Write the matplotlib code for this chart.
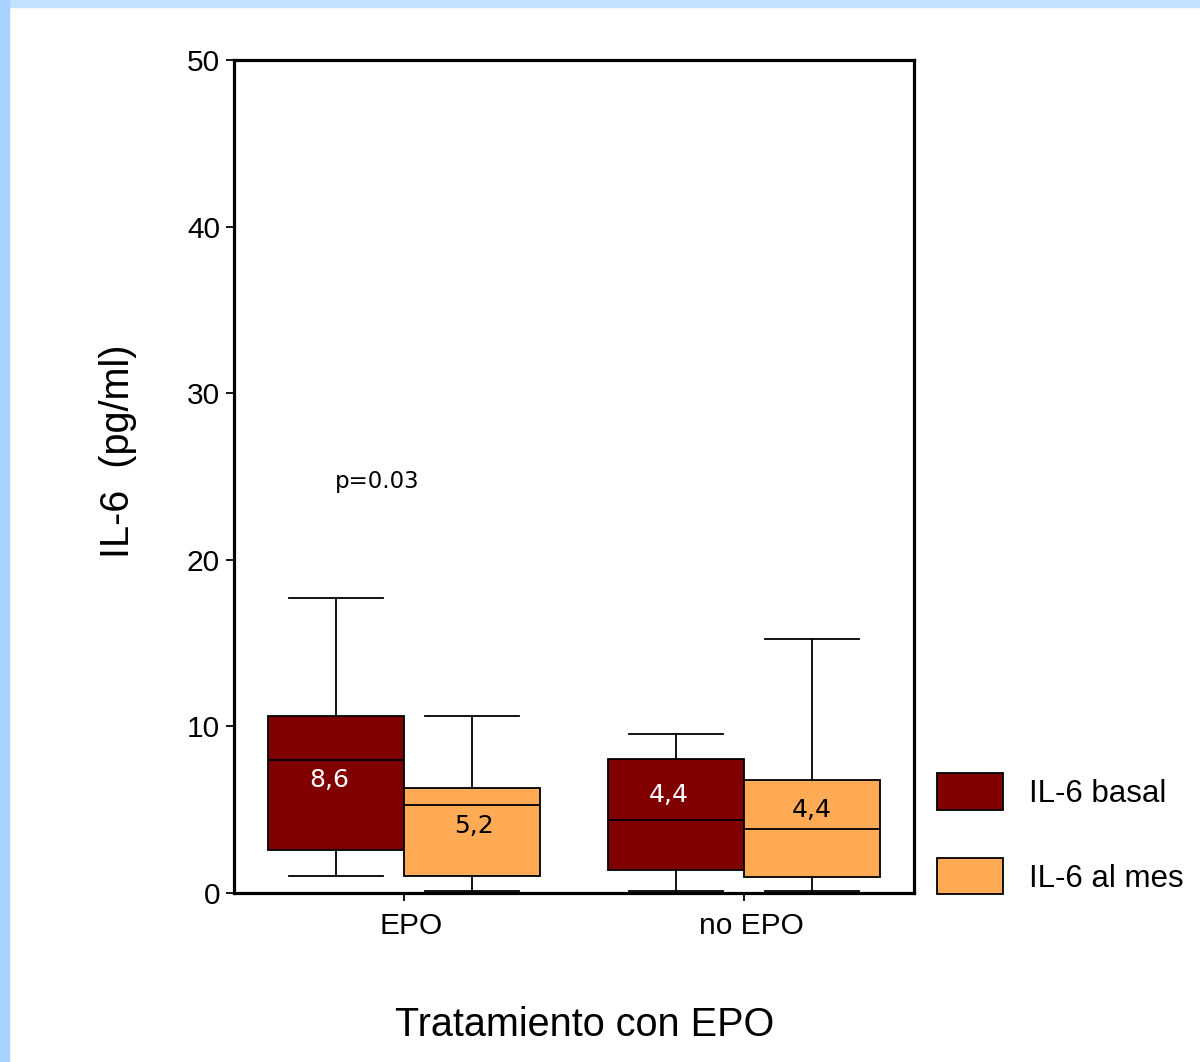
import matplotlib.pyplot as plt
import matplotlib.transforms as mtransforms
from matplotlib.patches import Patch, Rectangle

# datos
grupos = ['EPO', 'no EPO']
series = ['IL-6 basal', 'IL-6 al mes']
colores = ['#800000', '#FFAA55']

# [basal, al mes] para cada grupo
whis_lo = [[1.0, 0.1], [0.1, 0.1]]
q1 = [[2.6, 1.0], [1.4, 0.95]]
mediana = [[8.0, 5.3], [4.4, 3.85]]
q3 = [[10.6, 6.3], [8.05, 6.8]]
whis_hi = [[17.7, 10.65], [9.55, 15.25]]
etiquetas = [['8,6', '5,2'], ['4,4', '4,4']]
etiq_color = ['white', 'black']

plt.rcParams['font.family'] = ['Liberation Sans', 'DejaVu Sans']

fig = plt.figure(figsize=(12, 10.62), dpi=100)
# borde azul claro
fig.patches.append(Rectangle((0, 1 - 7 / 1062), 1, 7 / 1062, transform=fig.transFigure,
                             color='#c2e0ff', zorder=0))
fig.patches.append(Rectangle((0, 0), 9 / 1200, 1, transform=fig.transFigure,
                             color='#a8d2ff', zorder=0))

ax = fig.add_axes([234 / 1200, 169 / 1062, 680 / 1200, 833 / 1062])

ancho = 0.4
# desplazamiento de las etiquetas dentro de las cajas (x, y)
desp = [[(-0.02, 6.8), (0.005, 4.0)], [(-0.02, 5.9), (0.0, 5.0)]]
for gi in range(len(grupos)):
    for si in range(len(series)):
        pos = gi + 1 + (si - 0.5) * ancho
        stats = [dict(whislo=whis_lo[gi][si], q1=q1[gi][si], med=mediana[gi][si],
                      q3=q3[gi][si], whishi=whis_hi[gi][si], fliers=[])]
        ax.bxp(stats, positions=[pos], widths=ancho, capwidths=0.276, patch_artist=True,
               showfliers=False, manage_ticks=False,
               boxprops=dict(facecolor=colores[si], edgecolor='black', linewidth=1.3),
               medianprops=dict(color='black', linewidth=1.3),
               whiskerprops=dict(color='black', linewidth=1.3),
               capprops=dict(color='black', linewidth=1.3))
        dx, ty = desp[gi][si]
        ax.text(pos + dx, ty, etiquetas[gi][si], color=etiq_color[si],
                fontsize=18, family='DejaVu Sans', ha='center', va='center')

ax.text(0.92, 24.7, 'p=0.03', fontsize=16.5, family='DejaVu Sans', ha='center', va='center')

ax.set_xlim(0.5, 2.5)
ax.set_ylim(0, 50)
ax.set_yticks([0, 10, 20, 30, 40, 50])
ax.set_xticks([1, 2])
ax.set_xticklabels(grupos)
ax.tick_params(axis='both', labelsize=21.5, length=6, width=1.3, pad=4)
ax.tick_params(axis='x', pad=8)
off = mtransforms.ScaledTranslation(7 / 100, 0, fig.dpi_scale_trans)
for lbl in ax.get_xticklabels():
    lbl.set_transform(lbl.get_transform() + off)
for sp in ax.spines.values():
    sp.set_linewidth(2.3)

ax.set_xlabel('Tratamiento con EPO', fontsize=28.5)
ax.set_ylabel('IL-6  (pg/ml)', fontsize=28.5)
ax.xaxis.set_label_coords(0.515, -0.136)
ax.yaxis.set_label_coords(-0.143, 0.53)

handles = [Patch(facecolor=c, edgecolor='black', linewidth=1.3) for c in colores]
fig.legend(handles, series, loc='upper left', bbox_to_anchor=(937 / 1200, 1 - 773 / 1062),
           frameon=False, fontsize=22.5, borderpad=0, borderaxespad=0,
           handlelength=2.1, handleheight=1.42, handletextpad=0.85, labelspacing=1.55)

fig.savefig('out.png', dpi=100)
